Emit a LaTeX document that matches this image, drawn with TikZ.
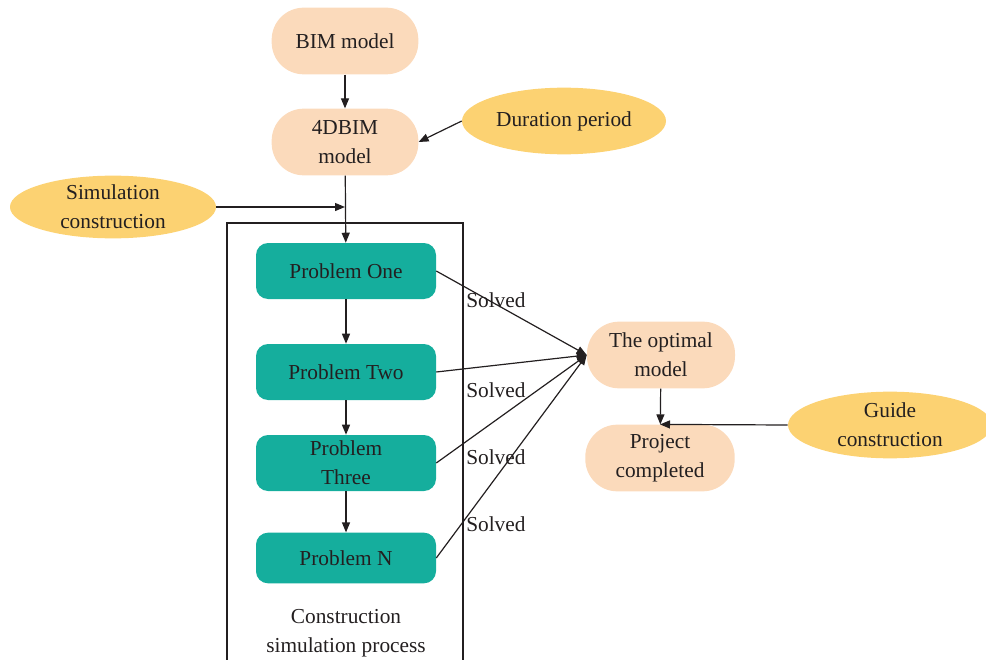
\documentclass[tikz,border=0pt]{standalone}
\usepackage{fontspec}
\setmainfont{Liberation Serif}
\usetikzlibrary{shapes.geometric,arrows.meta}
\definecolor{peach}{HTML}{FBDABB}
\definecolor{gold}{HTML}{FCD272}
\definecolor{tealbox}{HTML}{15AE9D}
\definecolor{ink}{HTML}{231F20}
\begin{document}
\begin{tikzpicture}[x=0.75pt,y=-0.75pt,
  font=\fontsize{16}{22}\selectfont, text=ink,
  pill/.style={fill=peach, rounded corners=24pt, minimum width=110pt, minimum height=50pt, align=center, inner sep=0pt},
  prob/.style={fill=tealbox, rounded corners=9pt, minimum width=135pt, minimum height=42pt, align=center, inner sep=0pt},
  oval/.style={ellipse, fill=gold, minimum width=153pt, minimum height=50pt, align=center, inner sep=0pt},
  arr/.style={draw=ink, line width=0.9pt, -{Triangle[length=7.5pt,width=6pt]}},
  lnk/.style={draw=ink, line width=0.9pt},
  lbl/.style={anchor=west, inner sep=0pt}
]
\useasboundingbox (0,0) rectangle (986,660);
\clip (0,0) rectangle (986,660);
\node[pill] (bim) at (345,41) {BIM model};
\node[pill] (bim4) at (345,142) {4DBIM\\model};
\node[oval] (dur) at (564,121) {Duration period};
\node[oval, minimum width=154.5pt, minimum height=46pt] (sim) at (113,207) {Simulation\\construction};
\draw[lnk] (227,223) rectangle (463,700);
\node[prob] (p1) at (346,271) {Problem One};
\node[prob] (p2) at (346,372) {Problem Two};
\node[prob] (p3) at (346,463) {Problem\\Three};
\node[prob, minimum height=38pt] (pn) at (346,558) {Problem N};
\node[align=center, inner sep=0pt] (csp) at (346,633) {Construction\\simulation process};
\node[pill, minimum width=111pt] (opt) at (661,355) {The optimal\\model};
\node[pill, minimum width=112pt] (proj) at (660,458) {Project\\completed};
\node[oval] (guide) at (890,425) {Guide\\construction};
\coordinate (simend) at (sim.east -| bim4.south);
\draw[arr] (bim) -- (bim4);
\draw[arr] (dur.west) -- (bim4.east);
\draw[arr] (bim4) -- (p1);
\draw[arr] (sim.east) -- (simend);
\draw[arr] (p1) -- (p2);
\draw[arr] (p2) -- (p3);
\draw[arr] (p3) -- (pn);
\draw[arr] (p1.east) -- (opt.west);
\draw[arr] (p2.east) -- (opt.west);
\draw[arr] (p3.east) -- (opt.west);
\draw[arr] (pn.east) -- (opt.west);
\draw[arr] (opt) -- (proj);
\draw[arr] (guide.west) -- (proj.north);
\node[lbl] (s1) at (466,300) {Solved};
\node[lbl] (s2) at (466,390) {Solved};
\node[lbl] (s3) at (466,457) {Solved};
\node[lbl] (s4) at (466,524) {Solved};
\end{tikzpicture}
\end{document}
